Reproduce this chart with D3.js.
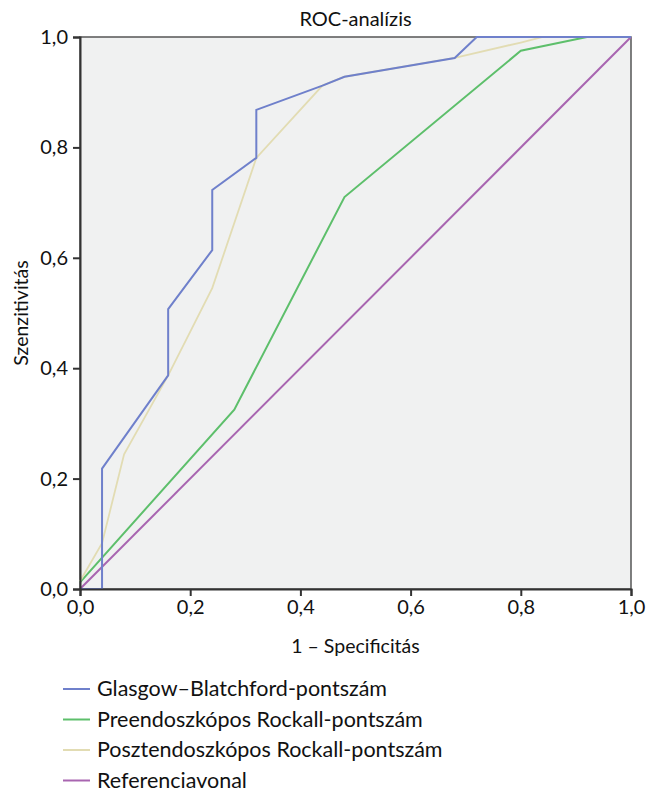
<!DOCTYPE html>
<html>
<head>
<meta charset="utf-8">
<script src="https://cdn.jsdelivr.net/npm/d3@7"></script>
<style>
  body { margin: 0; background: #fff; }
  svg text { font-family: Lato, "Noto Sans", sans-serif; fill: #111; }
</style>
</head>
<body>
<div id="chart"></div>
<script>
var seriesNames = ["Glasgow–Blatchford-pontszám", "Preendoszkópos Rockall-pontszám",
                   "Posztendoszkópos Rockall-pontszám", "Referenciavonal"];
var seriesColors = ["#6f80cb", "#5dbf6b", "#e2dcb3", "#a865b0"];

// 1 - specificity / sensitivity pairs
var glasgowX = [0, 0.04, 0.04, 0.16, 0.16, 0.24, 0.24, 0.32, 0.32, 0.44, 0.48, 0.68, 0.72, 1];
var glasgowY = [0, 0, 0.218, 0.387, 0.507, 0.614, 0.723, 0.781, 0.868, 0.912, 0.928, 0.962, 1, 1];
var preX = [0, 0.28, 0.48, 0.80, 0.92, 1];
var preY = [0.012, 0.325, 0.71, 0.975, 1, 1];
var postX = [0, 0.04, 0.08, 0.16, 0.24, 0.32, 0.44, 0.48, 0.68, 0.80, 0.84, 1];
var postY = [0.014, 0.083, 0.244, 0.387, 0.545, 0.781, 0.912, 0.928, 0.962, 0.99, 1, 1];
var refX = [0, 1];
var refY = [0, 1];

var tickValues = [0, 0.2, 0.4, 0.6, 0.8, 1.0];

function BarChart() {
  var w = 551, h = 552;
  var margin = {top: 37, left: 80};

  var svg = d3.select("#chart").append("svg")
    .attr("width", 648).attr("height", 791);

  var g = svg.append("g")
    .attr("transform", "translate(" + margin.left + "," + margin.top + ")");

  var xScale = d3.scaleLinear().domain([0, 1]).range([0, w]);
  var yScale = d3.scaleLinear().domain([0, 1]).range([h, 0]);
  var fmt = function(d) { return d3.format(".1f")(d).replace(".", ","); };

  // plot background
  g.append("rect")
    .attr("width", w).attr("height", h)
    .attr("fill", "#f0f1f1")
    .attr("stroke", "#555").attr("stroke-width", 1.5);

  var series = [
    {x: glasgowX, y: glasgowY},
    {x: preX, y: preY},
    {x: postX, y: postY},
    {x: refX, y: refY}
  ];
  var line = d3.line().x((d) => xScale(d[0])).y((d) => yScale(d[1]));

  // draw reference first, then others on top
  [3, 1, 2, 0].forEach(function(i) {
    var pts = series[i].x.map((v, k) => [v, series[i].y[k]]);
    g.append("path")
      .attr("d", line(pts))
      .attr("fill", "none")
      .attr("stroke", seriesColors[i])
      .attr("stroke-width", i == 2 ? 1.8 : 2);
  });

  //xAxis
  var xAxis = d3.axisBottom(xScale).tickValues(tickValues).tickFormat(fmt)
    .tickSize(7).tickPadding(4);
  var xa = g.append("g").attr("transform", "translate(0," + h + ")").call(xAxis);

  //yAxis
  var yAxis = d3.axisLeft(yScale).tickValues(tickValues).tickFormat(fmt)
    .tickSize(7).tickPadding(5);
  var ya = g.append("g").call(yAxis);

  [xa, ya].forEach(function(a) {
    a.select(".domain").attr("stroke", "#333").attr("stroke-width", 2);
    a.selectAll(".tick line").attr("stroke", "#333").attr("stroke-width", 2);
    a.selectAll(".tick text").style("font-size", "20px").attr("fill", "#111");
  });

  // title
  svg.append("text")
    .attr("x", margin.left + w / 2).attr("y", 26)
    .attr("text-anchor", "middle")
    .style("font-size", "20px")
    .text("ROC-analízis");

  // axis labels
  svg.append("text")
    .attr("x", margin.left + w / 2).attr("y", 653)
    .attr("text-anchor", "middle")
    .style("font-size", "19.5px")
    .text("1 – Specificitás");

  svg.append("text")
    .attr("transform", "translate(28," + (margin.top + h / 2) + ") rotate(-90)")
    .attr("text-anchor", "middle")
    .style("font-size", "19.5px")
    .text("Szenzitivitás");

  // legend
  var legend = svg.append("g").attr("transform", "translate(63,689)");
  seriesNames.forEach(function(name, i) {
    var row = legend.append("g").attr("transform", "translate(0," + (i * 30.5) + ")");
    row.append("line")
      .attr("x1", 0).attr("x2", 27).attr("y1", 0).attr("y2", 0)
      .attr("stroke", seriesColors[i]).attr("stroke-width", 2);
    row.append("text")
      .attr("x", 34).attr("y", 7)
      .style("font-size", "21.5px")
      .text(name);
  });
}

window.onload = function () {
  BarChart();
};
</script>
</body>
</html>
